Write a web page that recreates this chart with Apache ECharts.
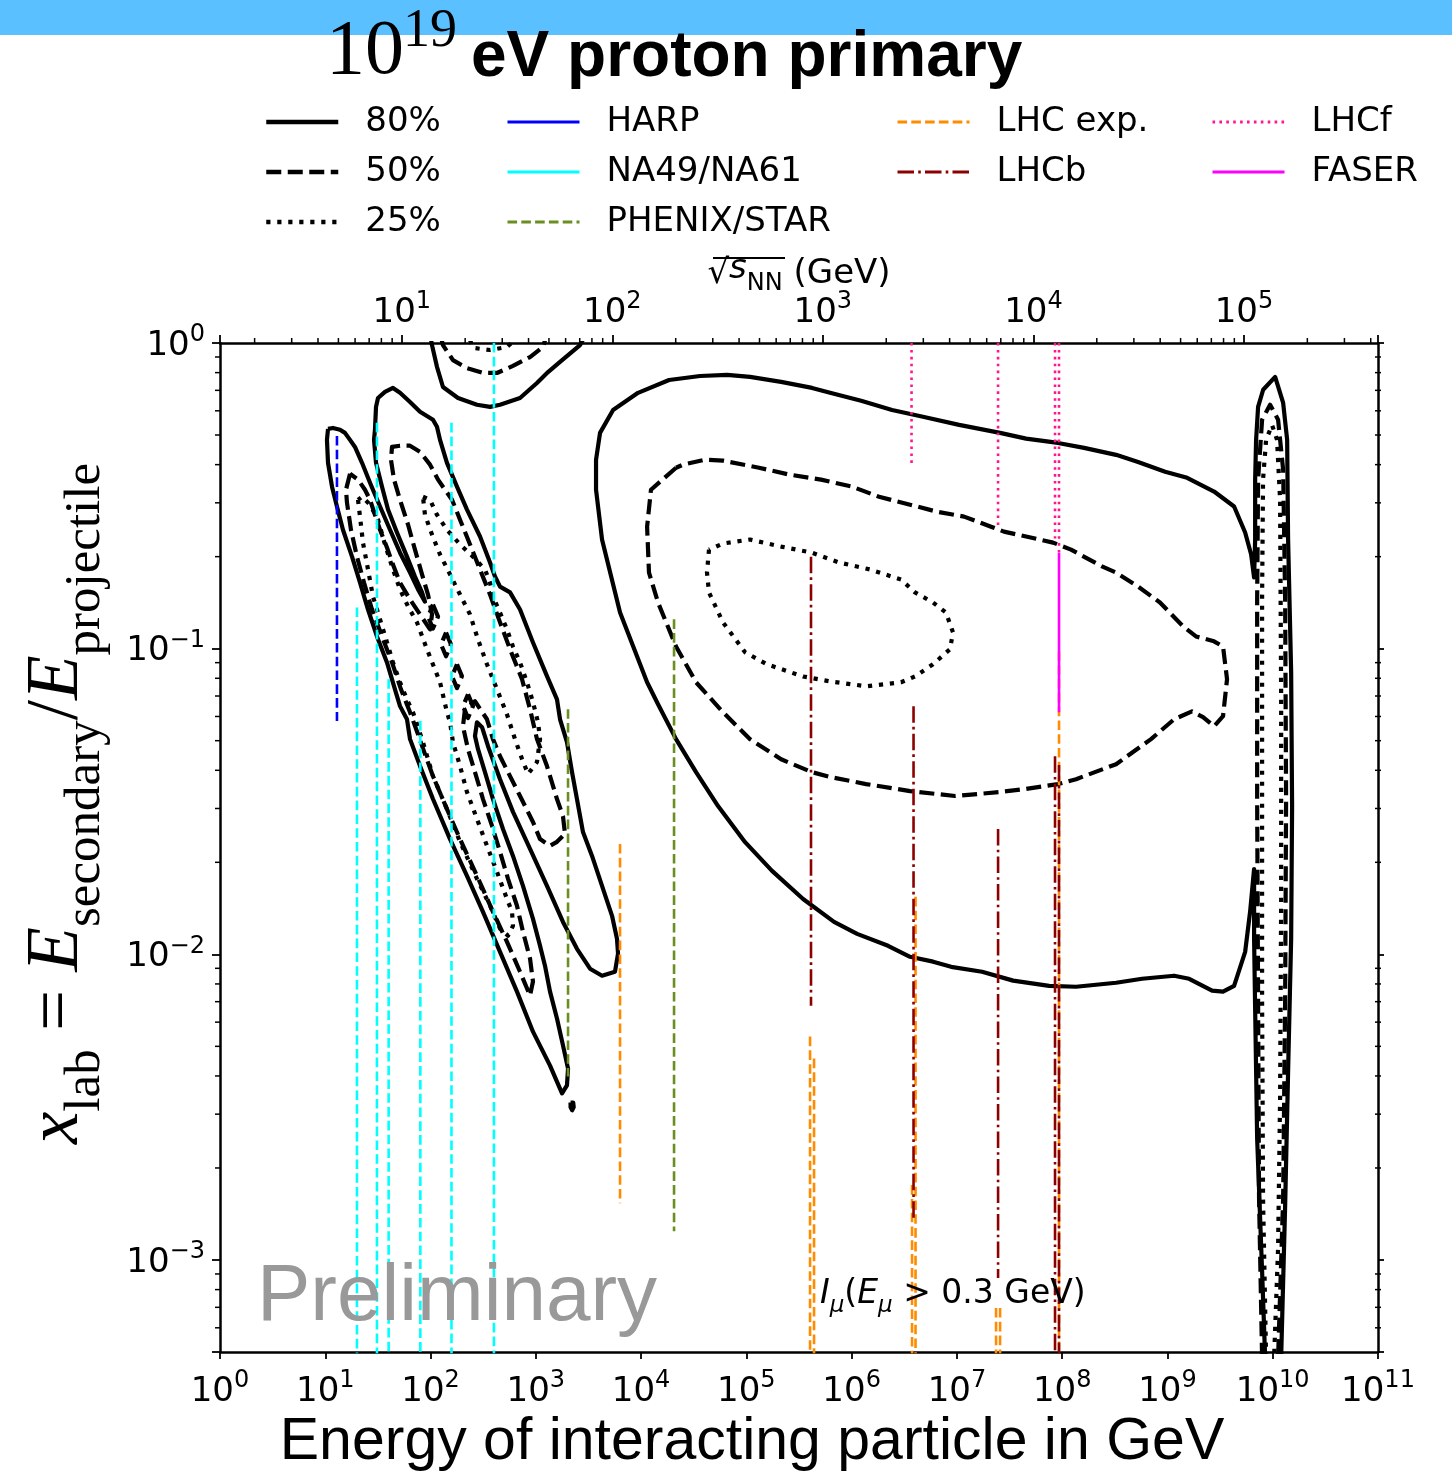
<!DOCTYPE html>
<html><head><meta charset="utf-8">
<script src="https://cdn.jsdelivr.net/npm/echarts@6/dist/echarts.min.js"></script>
<style>html,body{margin:0;padding:0;background:#fff}#c{width:1452px;height:1471px}</style>
</head><body><div id="c"></div>
<script>
// ===== DATA (all values as log10: [log10 E_GeV, log10 x_lab]) =====
const BLOB80 = [[9.928,-3.320],[9.899,-3.036],[9.852,-2.602],[9.833,-2.178],[9.823,-1.949],[9.823,-1.721],[9.785,-1.861],[9.738,-1.992],[9.633,-2.103],[9.528,-2.122],[9.424,-2.119],[9.206,-2.080],[9.063,-2.070],[8.759,-2.080],[8.512,-2.093],[8.132,-2.106],[7.876,-2.103],[7.534,-2.086],[7.239,-2.057],[6.945,-2.041],[6.774,-2.024],[6.555,-2.008],[6.346,-1.972],[6.052,-1.933],[5.833,-1.894],[5.539,-1.819],[5.244,-1.727],[4.988,-1.633],[4.731,-1.515],[4.522,-1.404],[4.332,-1.296],[4.161,-1.182],[4.057,-1.110],[3.800,-0.882],[3.629,-0.643],[3.572,-0.480],[3.572,-0.382],[3.610,-0.294],[3.734,-0.219],[3.971,-0.163],[4.266,-0.121],[4.560,-0.108],[4.817,-0.104],[5.035,-0.111],[5.330,-0.127],[5.624,-0.147],[5.795,-0.163],[6.090,-0.189],[6.384,-0.219],[6.688,-0.242],[7.021,-0.268],[7.410,-0.294],[7.657,-0.313],[7.961,-0.327],[8.208,-0.343],[8.512,-0.366],[8.721,-0.389],[8.978,-0.421],[9.187,-0.441],[9.443,-0.486],[9.633,-0.535],[9.738,-0.620],[9.795,-0.692],[9.823,-0.767],[9.833,-0.643],[9.833,-0.447],[9.842,-0.317],[9.861,-0.209],[9.909,-0.153],[10.023,-0.111],[10.099,-0.196],[10.137,-0.317],[10.146,-0.643],[10.175,-1.077],[10.184,-1.515],[10.175,-1.949],[10.146,-2.383],[10.118,-2.821],[10.080,-3.320]];
const BLOB50 = [[4.332,-0.408],[4.094,-0.480],[4.057,-0.601],[4.075,-0.751],[4.161,-0.849],[4.332,-0.993],[4.522,-1.110],[4.778,-1.208],[5.035,-1.296],[5.330,-1.362],[5.624,-1.404],[5.795,-1.420],[6.137,-1.443],[6.555,-1.466],[6.982,-1.482],[7.410,-1.469],[7.657,-1.459],[7.961,-1.443],[8.132,-1.427],[8.512,-1.378],[8.844,-1.296],[9.063,-1.231],[9.233,-1.205],[9.338,-1.224],[9.442,-1.254],[9.528,-1.221],[9.566,-1.100],[9.528,-0.993],[9.442,-0.976],[9.271,-0.960],[9.148,-0.927],[8.929,-0.849],[8.721,-0.797],[8.512,-0.751],[8.378,-0.731],[8.084,-0.676],[7.913,-0.653],[7.657,-0.633],[7.447,-0.617],[7.324,-0.601],[7.068,-0.568],[6.811,-0.552],[6.555,-0.529],[6.260,-0.503],[6.004,-0.470],[5.709,-0.447],[5.415,-0.431],[5.120,-0.408],[4.778,-0.385],[4.607,-0.382],[4.398,-0.398],[4.332,-0.408]];
const BLOB25 = [[4.645,-0.676],[4.626,-0.751],[4.645,-0.816],[4.778,-0.914],[4.988,-1.012],[5.196,-1.051],[5.538,-1.091],[5.795,-1.107],[6.137,-1.123],[6.469,-1.110],[6.602,-1.091],[6.773,-1.051],[6.934,-1.002],[6.963,-0.947],[6.896,-0.882],[6.773,-0.849],[6.602,-0.816],[6.469,-0.774],[6.175,-0.741],[5.880,-0.718],[5.624,-0.686],[5.330,-0.666],[5.035,-0.643],[4.778,-0.656],[4.645,-0.676]];
const TOP80 = [[1.995,0.03],[2.014,-0.007],[2.061,-0.078],[2.118,-0.144],[2.261,-0.180],[2.441,-0.202],[2.565,-0.209],[2.660,-0.202],[2.850,-0.180],[3.011,-0.131],[3.116,-0.095],[3.230,-0.062],[3.420,-0.007],[3.477,0.03]];
const TOP50 = [[2.099,0.02],[2.118,-0.007],[2.213,-0.056],[2.346,-0.082],[2.498,-0.098],[2.631,-0.098],[2.783,-0.075],[2.945,-0.046],[3.068,-0.013],[3.097,0.02]];
const TOP25 = [[2.375,0.01],[2.403,-0.016],[2.565,-0.023],[2.726,-0.013],[2.802,0.01]];
const SPIKE50 = [[9.899,-3.320],[9.870,-2.798],[9.861,-2.145],[9.852,-1.492],[9.852,-0.839],[9.861,-0.447],[9.899,-0.251],[9.975,-0.202],[10.051,-0.251],[10.099,-0.415],[10.118,-0.839],[10.127,-1.492],[10.118,-2.145],[10.099,-2.798],[10.051,-3.320]];
const SPIKE25 = [[9.937,-3.320],[9.908,-2.798],[9.899,-2.145],[9.899,-1.492],[9.899,-0.839],[9.908,-0.447],[9.937,-0.317],[9.993,-0.268],[10.041,-0.317],[10.070,-0.513],[10.080,-1.166],[10.080,-1.819],[10.070,-2.471],[10.051,-2.961],[10.013,-3.320]];
const LEFT80 = [[1.026,-0.281],[1.016,-0.317],[1.026,-0.392],[1.064,-0.470],[1.111,-0.535],[1.168,-0.611],[1.254,-0.699],[1.330,-0.784],[1.406,-0.872],[1.491,-0.960],[1.586,-1.045],[1.662,-1.133],[1.710,-1.188],[1.776,-1.231],[1.805,-1.296],[1.900,-1.384],[2.023,-1.492],[2.185,-1.623],[2.346,-1.743],[2.498,-1.861],[2.660,-1.992],[2.821,-2.122],[2.973,-2.253],[3.135,-2.364],[3.249,-2.455],[3.296,-2.429],[3.306,-2.374],[3.258,-2.298],[3.201,-2.210],[3.135,-2.122],[3.087,-2.037],[3.040,-1.972],[2.973,-1.884],[2.878,-1.776],[2.783,-1.678],[2.688,-1.590],[2.593,-1.492],[2.517,-1.404],[2.451,-1.329],[2.422,-1.286],[2.441,-1.241],[2.489,-1.257],[2.546,-1.319],[2.660,-1.427],[2.783,-1.534],[2.945,-1.655],[3.106,-1.776],[3.258,-1.894],[3.391,-1.982],[3.515,-2.047],[3.629,-2.070],[3.752,-2.057],[3.781,-1.998],[3.771,-1.949],[3.724,-1.874],[3.629,-1.776],[3.534,-1.678],[3.448,-1.600],[3.391,-1.492],[3.344,-1.404],[3.296,-1.306],[3.230,-1.231],[3.201,-1.166],[3.106,-1.090],[2.973,-0.980],[2.850,-0.872],[2.755,-0.816],[2.660,-0.797],[2.612,-0.764],[2.565,-0.718],[2.470,-0.633],[2.346,-0.545],[2.251,-0.470],[2.156,-0.392],[2.090,-0.317],[2.061,-0.274],[2.023,-0.251],[1.900,-0.225],[1.805,-0.193],[1.710,-0.163],[1.643,-0.147],[1.567,-0.160],[1.501,-0.180],[1.482,-0.209],[1.472,-0.284],[1.463,-0.317],[1.482,-0.392],[1.539,-0.470],[1.596,-0.545],[1.681,-0.620],[1.776,-0.699],[1.852,-0.764],[1.919,-0.816],[1.947,-0.846],[1.881,-0.806],[1.805,-0.751],[1.710,-0.686],[1.615,-0.611],[1.520,-0.535],[1.425,-0.457],[1.349,-0.392],[1.282,-0.340],[1.235,-0.317],[1.187,-0.294],[1.140,-0.284],[1.073,-0.278],[1.026,-0.281]];
const DOT80 = [[3.330,-2.485],[3.355,-2.485],[3.360,-2.500],[3.345,-2.510],[3.330,-2.500],[3.330,-2.485]];
const LEFT50 = [[1.235,-0.428],[1.197,-0.480],[1.206,-0.522],[1.244,-0.611],[1.301,-0.699],[1.368,-0.784],[1.444,-0.872],[1.539,-0.960],[1.634,-1.045],[1.719,-1.133],[1.805,-1.208],[1.881,-1.280],[1.947,-1.345],[2.023,-1.417],[2.156,-1.525],[2.280,-1.623],[2.441,-1.743],[2.593,-1.861],[2.726,-1.959],[2.850,-2.057],[2.945,-2.135],[2.973,-2.089],[2.945,-2.014],[2.878,-1.926],[2.821,-1.841],[2.736,-1.753],[2.660,-1.665],[2.584,-1.580],[2.498,-1.492],[2.422,-1.404],[2.356,-1.329],[2.308,-1.254],[2.327,-1.198],[2.422,-1.172],[2.536,-1.231],[2.593,-1.296],[2.660,-1.352],[2.755,-1.417],[2.850,-1.482],[2.973,-1.567],[3.040,-1.623],[3.135,-1.645],[3.201,-1.632],[3.277,-1.606],[3.258,-1.548],[3.201,-1.492],[3.106,-1.384],[3.011,-1.296],[2.945,-1.198],[2.869,-1.100],[2.755,-1.002],[2.660,-0.914],[2.565,-0.823],[2.470,-0.741],[2.375,-0.659],[2.280,-0.578],[2.204,-0.513],[2.137,-0.480],[2.071,-0.447],[1.995,-0.398],[1.900,-0.356],[1.805,-0.336],[1.710,-0.336],[1.634,-0.340],[1.624,-0.382],[1.653,-0.447],[1.710,-0.513],[1.786,-0.594],[1.852,-0.676],[1.919,-0.757],[1.976,-0.823],[2.014,-0.888],[1.995,-0.937],[1.900,-0.888],[1.805,-0.839],[1.710,-0.784],[1.643,-0.725],[1.586,-0.669],[1.520,-0.611],[1.472,-0.562],[1.425,-0.513],[1.377,-0.480],[1.311,-0.447],[1.235,-0.428]];
const ISLANDS50 = [
  [[2.023,-0.856],[2.071,-0.895],[2.023,-0.934],[1.976,-0.895],[2.023,-0.856]],
  [[2.147,-0.947],[2.194,-0.986],[2.147,-1.025],[2.100,-0.986],[2.147,-0.947]],
  [[2.251,-1.051],[2.298,-1.090],[2.251,-1.129],[2.204,-1.090],[2.251,-1.051]],
  [[2.356,-1.149],[2.403,-1.188],[2.356,-1.227],[2.309,-1.188],[2.356,-1.149]]
];
const LEFT25A = [[1.311,-0.513],[1.330,-0.568],[1.358,-0.653],[1.406,-0.741],[1.453,-0.829],[1.520,-0.904],[1.586,-0.979],[1.643,-1.045],[1.710,-1.110],[1.776,-1.166],[1.833,-1.208],[1.928,-1.306],[2.023,-1.417],[2.156,-1.525],[2.280,-1.632],[2.441,-1.753],[2.565,-1.841],[2.660,-1.916],[2.736,-1.939],[2.783,-1.907],[2.774,-1.861],[2.726,-1.819],[2.631,-1.730],[2.536,-1.645],[2.441,-1.557],[2.346,-1.469],[2.280,-1.384],[2.213,-1.306],[2.185,-1.241],[2.156,-1.208],[2.090,-1.110],[1.966,-1.002],[1.871,-0.914],[1.786,-0.862],[1.710,-0.806],[1.643,-0.741],[1.567,-0.659],[1.501,-0.578],[1.425,-0.529],[1.349,-0.503],[1.311,-0.513]];
const LEFT25B = [[1.928,-0.503],[1.995,-0.513],[2.061,-0.562],[2.156,-0.611],[2.280,-0.659],[2.403,-0.699],[2.517,-0.741],[2.565,-0.784],[2.593,-0.829],[2.660,-0.882],[2.726,-0.937],[2.783,-0.993],[2.850,-1.045],[2.916,-1.110],[2.973,-1.175],[3.021,-1.241],[3.040,-1.296],[3.011,-1.371],[2.926,-1.410],[2.869,-1.361],[2.802,-1.296],[2.726,-1.215],[2.631,-1.133],[2.536,-1.051],[2.451,-0.970],[2.375,-0.888],[2.280,-0.823],[2.185,-0.757],[2.090,-0.692],[2.014,-0.627],[1.947,-0.562],[1.928,-0.503]];

// experiments: [log10 E, log10 x top, log10 x bottom]
const HARP   = [[1.111,-0.304,-1.237]];
const NA61   = [[1.301,-0.865,-3.4],[1.491,-0.261,-3.4],[1.602,-1.100,-3.4],[1.903,-1.237,-3.4],[2.199,-0.261,-3.4],[2.602,0,-3.4]];
const PHENIX = [[3.306,-1.198,-2.400],[4.313,-0.904,-2.906]];
const LHCEXP = [[3.800,-1.639,-2.814],[5.605,-2.269,-3.4],[5.643,-2.341,-3.4],[6.574,-2.755,-3.4],[6.607,-1.812,-3.4],[7.372,-3.157,-3.4],[7.410,-3.157,-3.4],[7.970,-1.009,-3.4]];
const LHCB   = [[5.614,-0.699,-2.168],[6.588,-1.188,-2.870],[7.391,-1.590,-3.059],[7.932,-1.352,-3.4],[7.970,-1.381,-3.4]];
const LHCF   = [[6.569,0,-0.398],[7.391,0,-0.601],[7.932,0,-0.640],[7.970,0,-0.686]];
const FASER  = [[7.970,-0.686,-1.208]];

// axes
const X_MIN = 1, X_MAX = 1e11, Y_MIN = 5e-4, Y_MAX = 1;
const M_P = 0.938; // GeV, sqrt(s_NN) = sqrt(2 m E)
const Y_MINOR = [6e-4,7e-4,8e-4,9e-4,2e-3,3e-3,4e-3,5e-3,6e-3,7e-3,8e-3,9e-3,2e-2,3e-2,4e-2,5e-2,6e-2,7e-2,8e-2,9e-2,0.2,0.3,0.4,0.5,0.6,0.7,0.8,0.9];
const TOP_MINOR = [2,3,4,5,6,7,8,9,20,30,40,50,60,70,80,90,200,300,400,500,600,700,800,900,2000,3000,4000,5000,6000,7000,8000,9000,20000,30000,40000,50000,60000,70000,80000,90000,200000,300000,400000];

// ===== CHART =====
const FONT = 'DejaVu Sans';
const toV = p => [Math.pow(10, p[0]), Math.pow(10, p[1])];
const CW = 4.2;
const DASH = [15, 6.5], DOT = [4.2, 6.8];
const VW = 2.6;
const VDASH = [9.6, 4.2], VDASHDOT = [16.5, 4.2, 2.6, 4.2], VDOT = [2.6, 4.3];

function contour(name, segs, type) {
  return segs.map(seg => ({
    type: 'line', name, data: seg.map(toV), symbol: 'none', showSymbol: false,
    silent: true, animation: false, z: 2,
    itemStyle: {color: '#000'},
    lineStyle: {color: '#000', width: CW, type, join: 'round', cap: 'butt'}
  }));
}
function vlines(name, segs, color, type) {
  return segs.map(s => ({
    type: 'line', name, data: [toV([s[0], s[1]]), toV([s[0], s[2]])],
    symbol: 'none', showSymbol: false, silent: true, animation: false, z: 3,
    itemStyle: {color}, lineStyle: {color, width: VW, type}
  }));
}
function expLabel(v) {
  const e = Math.log10(v), r = Math.round(e);
  if (Math.abs(e - r) > 1e-6) return '';
  return '{b|10}{s|' + String(r).replace('-', '\u2212') + '}';
}
const labRich = {
  b: {fontFamily: FONT, fontSize: 34, lineHeight: 40, verticalAlign: 'bottom', color: '#000'},
  s: {fontFamily: FONT, fontSize: 24, lineHeight: 20, verticalAlign: 'top', color: '#000'}
};
function tickSeries(xIdx, data, mk) {
  return {
    type: 'custom', xAxisIndex: xIdx, yAxisIndex: 0, silent: true, animation: false, clip: false, z: 5,
    data, renderItem: (params, api) => {
      const p = api.coord([api.value(0), api.value(1)]);
      return {type: 'line', shape: mk(p), style: {stroke: '#000', lineWidth: 1.5}};
    }
  };
}

const series = [].concat(
  contour('80%', [BLOB80, TOP80, LEFT80, DOT80], 'solid'),
  contour('50%', [BLOB50, TOP50, SPIKE50, LEFT50].concat(ISLANDS50), DASH),
  contour('25%', [BLOB25, TOP25, SPIKE25, LEFT25A, LEFT25B], DOT),
  vlines('HARP', HARP, '#0000ff', VDASH),
  vlines('NA49/NA61', NA61, '#00ffff', VDASH),
  vlines('PHENIX/STAR', PHENIX, '#6b8e23', VDASH),
  vlines('LHC exp.', LHCEXP, '#ff8c00', VDASH),
  vlines('LHCb', LHCB, '#8b0000', VDASHDOT),
  vlines('LHCf', LHCF, '#ff1493', VDOT),
  vlines('FASER', FASER, '#ff00ff', 'solid'),
  [
    tickSeries(0, Y_MINOR.map(v => [X_MIN, v]), p => ({x1: p[0] - 5, y1: p[1], x2: p[0], y2: p[1]})),
    tickSeries(0, Y_MINOR.map(v => [X_MAX, v]), p => ({x1: p[0] - 3, y1: p[1], x2: p[0] + 3, y2: p[1]})),
    tickSeries(1, TOP_MINOR.map(v => [v, Y_MAX]), p => ({x1: p[0], y1: p[1] - 5, x2: p[0], y2: p[1]}))
  ]
);

function legend(left, items) {
  return {
    left, top: 102, orient: 'vertical', padding: 0, itemWidth: 72, itemHeight: 4, itemGap: 10,
    selectedMode: false,
    itemStyle: {opacity: 0},
    textStyle: {fontFamily: FONT, fontSize: 34, color: '#000', lineHeight: 40, padding: [0, 0, 0, 22]},
    data: items
  };
}

const option = {
  animation: false,
  backgroundColor: '#fff',
  title: [
    {text: '10', left: 326, top: 14, padding: 0, textStyle: {fontFamily: 'Liberation Serif', fontWeight: 'normal', fontSize: 78, lineHeight: 78, color: '#000'}},
    {text: '19', left: 403, top: 5, padding: 0, textStyle: {fontFamily: 'Liberation Serif', fontWeight: 'normal', fontSize: 54, lineHeight: 54, color: '#000'}},
    {text: 'eV proton primary', left: 471, top: 26, padding: 0, textStyle: {fontFamily: 'Liberation Sans', fontWeight: 'bold', fontSize: 64, lineHeight: 64, color: '#000'}}
  ],
  legend: [
    legend(264, [
      {name: '80%', lineStyle: {width: 4.5}},
      {name: '50%', lineStyle: {width: 4.5}},
      {name: '25%', lineStyle: {width: 4.5}}]),
    legend(506, [
      {name: 'HARP', lineStyle: {type: 'solid', width: 3}},
      {name: 'NA49/NA61', lineStyle: {type: 'solid', width: 3}},
      {name: 'PHENIX/STAR', lineStyle: {width: 3}}]),
    legend(896, [
      {name: 'LHC exp.', lineStyle: {width: 3}},
      {name: 'LHCb', lineStyle: {width: 3}}]),
    legend(1211, [
      {name: 'LHCf', lineStyle: {width: 3}},
      {name: 'FASER', lineStyle: {width: 3}}])
  ],
  graphic: [
    {type: 'rect', z: -1, shape: {x: 0, y: 0, width: 1452, height: 35}, style: {fill: '#5bc0ff'}},
    {type: 'line', z: 10, shape: {x1: 713, y1: 258, x2: 785, y2: 258}, style: {stroke: '#000', lineWidth: 2}},
    {type: 'text', z: 10, x: 257, y: 1298, style: {text: 'Preliminary', fontFamily: 'Liberation Sans', fontSize: 80, fill: '#999999', align: 'left', verticalAlign: 'middle'}},
    {type: 'text', z: 10, x: 820, y: 1298, style: {
      text: '{i|I}{s|\u03bc}{n|(}{i|E}{s|\u03bc}{n| > 0.3 GeV)}', align: 'left', verticalAlign: 'middle',
      rich: {
        i: {fontFamily: FONT, fontStyle: 'italic', fontSize: 33, lineHeight: 40, verticalAlign: 'top', fill: '#000'},
        n: {fontFamily: FONT, fontSize: 33, lineHeight: 40, verticalAlign: 'top', fill: '#000'},
        s: {fontFamily: FONT, fontStyle: 'italic', fontSize: 23, lineHeight: 24, verticalAlign: 'bottom', fill: '#000'}
      }}}
  ],
  grid: {left: 220, top: 343, right: 74, bottom: 119, show: false, containLabel: false, outerBoundsMode: 'none'},
  xAxis: [
    {type: 'log', position: 'bottom', min: X_MIN, max: X_MAX, interval: 1, logBase: 10,
     axisLine: {show: true, onZero: false, lineStyle: {color: '#000', width: 2.5}},
     axisTick: {show: true, length: 7, lineStyle: {color: '#000', width: 1.8}},
     splitLine: {show: false}, minorTick: {show: false},
     axisLabel: {margin: 17, formatter: expLabel, rich: labRich, hideOverlap: false},
     name: 'Energy of interacting particle in GeV', nameLocation: 'middle', nameGap: 61, nameMoveOverlap: false,
     nameTextStyle: {fontFamily: 'Liberation Sans', fontSize: 59, lineHeight: 59, color: '#000', padding: [0, 94, 0, 0]}},
    {type: 'log', position: 'top', min: Math.sqrt(2 * M_P * X_MIN), max: Math.sqrt(2 * M_P * X_MAX), logBase: 10,
     axisLine: {show: true, onZero: false, lineStyle: {color: '#000', width: 2.5}},
     axisTick: {show: true, length: 8, lineStyle: {color: '#000', width: 1.8}},
     splitLine: {show: false},
     axisLabel: {margin: 13, formatter: expLabel, rich: labRich, hideOverlap: false},
     name: '\u221a{i|s}{s|NN} (GeV)', nameLocation: 'middle', nameGap: 47, nameMoveOverlap: false,
     nameTextStyle: {fontFamily: FONT, fontSize: 34, lineHeight: 44, color: '#000',
       rich: {
         i: {fontFamily: FONT, fontStyle: 'italic', fontSize: 34, lineHeight: 44, verticalAlign: 'top', color: '#000'},
         s: {fontFamily: FONT, fontSize: 24, lineHeight: 26, verticalAlign: 'bottom', color: '#000'}
       }}}
  ],
  yAxis: [
    {type: 'log', position: 'left', min: Y_MIN, max: Y_MAX, logBase: 10,
     axisLine: {show: true, onZero: false, lineStyle: {color: '#000', width: 2.5}},
     axisTick: {show: true, length: 8, lineStyle: {color: '#000', width: 1.8}},
     splitLine: {show: false},
     axisLabel: {margin: 15, formatter: expLabel, rich: labRich, hideOverlap: false},
     name: '{i|x}{sub|lab}{n| = }{i|E}{sub|secondary}{n|/}{i|E}{sub|projectile}',
     nameLocation: 'middle', nameGap: 109, nameMoveOverlap: false,
     nameTextStyle: {padding: [0, 0, 0, 88], color: '#000',
       rich: {
         i: {fontFamily: 'Liberation Serif', fontStyle: 'italic', fontSize: 73, lineHeight: 90, verticalAlign: 'top', color: '#000'},
         n: {fontFamily: 'Liberation Serif', fontSize: 73, lineHeight: 90, verticalAlign: 'top', color: '#000'},
         sub: {fontFamily: 'Liberation Serif', fontSize: 51, lineHeight: 45, verticalAlign: 'bottom', color: '#000'}
       }}},
    {type: 'log', position: 'right', min: Y_MIN, max: Y_MAX, logBase: 10,
     axisLine: {show: true, onZero: false, lineStyle: {color: '#000', width: 2.5}},
     axisTick: {show: true, length: 6, lineStyle: {color: '#000', width: 1.8}},
     splitLine: {show: false}, axisLabel: {show: false}}
  ],
  series
};
const chart = echarts.init(document.getElementById('c'), null, {renderer: 'canvas'});
chart.setOption(option);
</script>
</body></html>
